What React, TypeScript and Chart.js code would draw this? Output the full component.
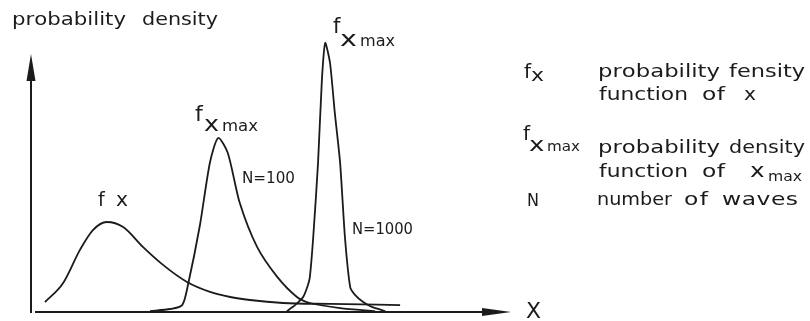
import React, { useEffect, useRef } from "react";
import { Chart, registerables } from "chart.js";

Chart.register(...registerables);

// Probability density of a single wave height x (f_x) and of the largest
// wave x_max among N waves, for N = 100 and N = 1000.
const fxX = [0.29, 0.67, 1.02, 1.29, 1.58, 1.92, 2.33, 2.75, 3.25, 3.73, 4.15, 4.56, 5.25, 6.23, 7.69];
const fxY = [3.3, 9.7, 20.7, 27.3, 30, 28.3, 21.7, 15.7, 10, 6.7, 5, 4, 3, 2.7, 2.3];

const n100X = [2.48, 2.9, 3.15, 3.27, 3.52, 3.73, 3.9, 4.1, 4.35, 4.71, 5.13, 5.54, 5.81, 6.44, 7.17];
const n100Y = [0.3, 1, 2.3, 9, 29, 50, 58, 53, 36.3, 21.7, 11.7, 5, 3, 1.3, 0.3];

const n1000X = [5.33, 5.5, 5.67, 5.77, 5.81, 5.88, 5.98, 6.06, 6.13, 6.23, 6.33, 6.44, 6.54, 6.65, 6.75, 6.92, 7.1, 7.38];
const n1000Y = [0.3, 2.3, 5, 9, 11.7, 25, 49.7, 77.3, 89.7, 83, 66.3, 49.7, 25, 8.3, 5.7, 3.3, 1.7, 0.3];

// Axis extents and the height of the vertical arrow tip
const xRange = [0, 10];
const yRange = [0, 100];
const yArrowTip = 86;

const INK = "#1b1b1b";
const FONT = '"DejaVu Sans", sans-serif';

type Label = { t: string; l: number; b: number; r?: number; s: number };

// Text placed on the figure: text, left, baseline, right edge, size
const labels: Label[] = [
  // vertical axis title
  { t: "probability", l: 12, b: 25, r: 126, s: 18 },
  { t: "density", l: 142, b: 25, r: 218, s: 18 },
  // curve labels
  { t: "f", l: 98, b: 206, s: 19 },
  { t: "x", l: 116, b: 206, r: 128, s: 19 },
  { t: "f", l: 195, b: 121, s: 22 },
  { t: "x", l: 204, b: 131, r: 219, s: 22 },
  { t: "max", l: 222, b: 131, r: 258, s: 16 },
  { t: "N=100", l: 242, b: 183, r: 295, s: 16 },
  { t: "f", l: 333, b: 33, s: 21 },
  { t: "x", l: 340, b: 46, r: 358, s: 22 },
  { t: "max", l: 360, b: 46, r: 395, s: 16 },
  { t: "N=1000", l: 352, b: 234, r: 413, s: 16 },
  // key
  { t: "f", l: 524, b: 78, s: 20 },
  { t: "x", l: 531, b: 81, r: 544, s: 18 },
  { t: "probability", l: 598, b: 77, r: 720, s: 18 },
  { t: "fensity", l: 729, b: 77, r: 805, s: 18 },
  { t: "function", l: 599, b: 100, r: 688, s: 18 },
  { t: "of", l: 702, b: 100, r: 725, s: 18 },
  { t: "x", l: 744, b: 100, r: 756, s: 18 },
  { t: "f", l: 523, b: 140, s: 20 },
  { t: "x", l: 529, b: 151, r: 546, s: 20 },
  { t: "max", l: 547, b: 151, r: 580, s: 14 },
  { t: "probability", l: 598, b: 153, r: 720, s: 18 },
  { t: "density", l: 729, b: 153, r: 805, s: 18 },
  { t: "function", l: 599, b: 177, r: 688, s: 18 },
  { t: "of", l: 702, b: 177, r: 725, s: 18 },
  { t: "x", l: 750, b: 177, r: 766, s: 19 },
  { t: "max", l: 768, b: 181, r: 802, s: 14 },
  { t: "N", l: 527, b: 206, r: 539, s: 17 },
  { t: "number", l: 597, b: 205, r: 672, s: 18 },
  { t: "of", l: 684, b: 205, r: 708, s: 18 },
  { t: "waves", l: 722, b: 205, r: 798, s: 18 },
  // horizontal axis title
  { t: "X", l: 526, b: 318, r: 541, s: 21 },
];

// Draws a word stretched (up to 30%) and letter-spaced to span [l, r]
function drawWord(ctx: CanvasRenderingContext2D, lb: Label) {
  ctx.font = `${lb.s}px ${FONT}`;
  const chars = Array.from(lb.t);
  const widths = chars.map((c) => ctx.measureText(c).width);
  const natural = widths.reduce((a, b) => a + b, 0);
  const target = lb.r != null ? lb.r - lb.l : natural;
  const sx = Math.max(0.85, Math.min(1.3, target / natural));
  const gap = chars.length > 1 ? (target - natural * sx) / (chars.length - 1) : 0;
  let x = lb.l;
  chars.forEach((c, i) => {
    ctx.save();
    ctx.translate(x, lb.b);
    ctx.scale(sx, 1);
    ctx.fillText(c, 0, 0);
    ctx.restore();
    x += widths[i] * sx + gap;
  });
}

const axesAndText = {
  id: "axesAndText",
  afterDatasetsDraw(chart: Chart) {
    const { ctx } = chart;
    const xs = chart.scales.x;
    const ys = chart.scales.y;
    const x0 = xs.getPixelForValue(xRange[0]);
    const y0 = ys.getPixelForValue(yRange[0]);
    const xTip = xs.getPixelForValue(xRange[1]);
    const yTip = ys.getPixelForValue(yArrowTip);
    ctx.save();
    ctx.strokeStyle = INK;
    ctx.fillStyle = INK;
    ctx.lineWidth = 2;
    // vertical axis with arrow
    ctx.beginPath();
    ctx.moveTo(x0, y0 + 1);
    ctx.lineTo(x0, yTip + 20);
    ctx.stroke();
    ctx.beginPath();
    ctx.moveTo(x0, yTip);
    ctx.lineTo(x0 - 4.5, yTip + 27);
    ctx.lineTo(x0 + 4.5, yTip + 27);
    ctx.closePath();
    ctx.fill();
    // horizontal axis with arrow
    ctx.beginPath();
    ctx.moveTo(x0 + 4, y0);
    ctx.lineTo(xTip - 22, y0);
    ctx.stroke();
    ctx.beginPath();
    ctx.moveTo(xTip, y0);
    ctx.lineTo(xTip - 29, y0 - 4);
    ctx.lineTo(xTip - 29, y0 + 4);
    ctx.closePath();
    ctx.fill();
    // text
    ctx.textBaseline = "alphabetic";
    ctx.textAlign = "left";
    labels.forEach((lb) => drawWord(ctx, lb));
    ctx.restore();
  },
};

const pts = (xs: number[], ys: number[]) => xs.map((x, i) => ({ x, y: ys[i] }));

export default function App() {
  const ref = useRef<HTMLCanvasElement | null>(null);

  useEffect(() => {
    if (!ref.current) return;
    const line = {
      borderColor: INK,
      borderWidth: 1.8,
      pointRadius: 0,
      fill: false,
    };
    const chart = new Chart(ref.current, {
      type: "line",
      data: {
        datasets: [
          { ...line, label: "f_x", data: pts(fxX, fxY), cubicInterpolationMode: "monotone" },
          { ...line, label: "f_xmax N=100", data: pts(n100X, n100Y), tension: 0.25 },
          { ...line, label: "f_xmax N=1000", data: pts(n1000X, n1000Y), tension: 0.2 },
        ],
      },
      options: {
        responsive: false,
        animation: false,
        layout: { padding: { left: 31, right: 299, top: 12, bottom: 9 } },
        scales: {
          x: { type: "linear", min: xRange[0], max: xRange[1], display: false },
          y: { type: "linear", min: yRange[0], max: yRange[1], display: false },
        },
        plugins: { legend: { display: false }, tooltip: { enabled: false } },
      },
      plugins: [axesAndText],
    });
    return () => chart.destroy();
  }, []);

  return (
    <div style={{ position: "fixed", left: 0, top: 0, width: 810, height: 321, background: "#fff" }}>
      <canvas ref={ref} width={810} height={321} />
    </div>
  );
}
